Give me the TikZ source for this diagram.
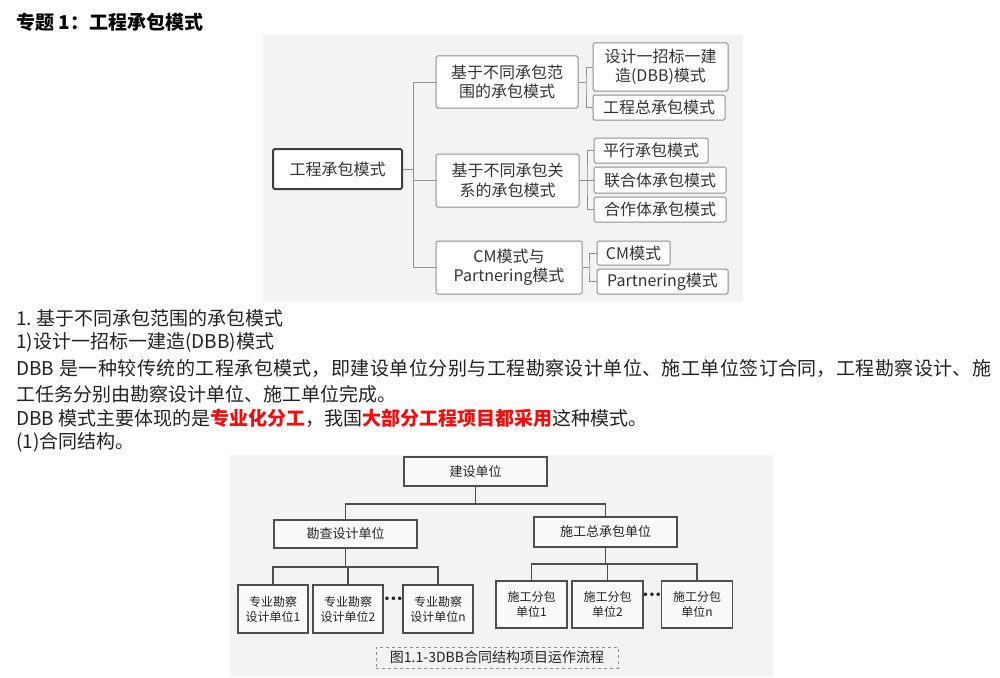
\documentclass[tikz,border=0pt]{standalone}
\usepackage{fontspec}
\setmainfont{Noto Sans CJK SC}
\newfontfamily\dotfont{DejaVu Sans}
\usepackage{tikz}
\XeTeXlinebreaklocale "zh"
\XeTeXlinebreakskip=0pt plus 1pt

\definecolor{pagebg}{HTML}{F3F3F3}
\definecolor{topline}{HTML}{8E8E8E}
\definecolor{topink}{HTML}{333333}
\definecolor{rootline}{HTML}{3E3E3E}
\definecolor{botline}{HTML}{4E4E4E}
\definecolor{bodyink}{HTML}{222222}
\definecolor{hired}{HTML}{F20D0D}

\begin{document}
\begin{tikzpicture}[x=1pt, y=-1pt, every node/.style={inner sep=0pt},
    topbox/.style={draw=topline, line width=1pt, rounded corners=1.5pt, fill=white, text=topink, align=center, font=\fontsize{16}{19.5}\selectfont},
    rootbox/.style={topbox, draw=rootline, line width=2pt},
    toplink/.style={draw=topline, line width=1pt},
    botbox/.style={draw=botline, line width=1.4pt, fill=white!98!black, text=bodyink, align=center, font=\fontsize{12}{15}\selectfont},
    botlink/.style={draw=botline, line width=1.4pt},
    gapdots/.style={text=bodyink, font=\dotfont\bfseries\fontsize{10}{10}\selectfont},
    bodytext/.style={anchor=west, text=bodyink, font=\fontsize{19}{23}\selectfont}]

    \useasboundingbox (0,0) rectangle (1000,677);
    \fill[white] (0,0) rectangle (1000,677);

    % header and body text
    \node[bodytext, font=\fontsize{19}{22}\selectfont\bfseries, text=black] (40) at (16,22) {专题 1：工程承包模式};
    \node[bodytext] (41) at (16,318) {1.\hspace{4pt}基于不同承包范围的承包模式};
    \node[bodytext] (42) at (16,342) {1)设计一招标一建造(DBB)模式};
    \node[bodytext, text width=975, align=justify] (43) at (16,368) {{\parfillskip=0pt\relax DBB 是一种较传统的工程承包模式，即建设单位分别与工程勘察设计单位、施工单位签订合同，工程勘察设计、施\par}};
    \node[bodytext] (44) at (16,394) {工任务分别由勘察设计单位、施工单位完成。};
    \node[bodytext] (45) at (16,418) {DBB 模式主要体现的是\textcolor{hired}{\bfseries 专业化分工}，我国\textcolor{hired}{\bfseries 大部分工程项目都采用}这种模式。};
    \node[bodytext] (46) at (16,442) {(1)合同结构。};

    % first figure
    \fill[pagebg] (263,35) rectangle (743,302);

    \node[rootbox, minimum width=129, minimum height=40] (1) at (337.5,169) {工程承包模式};

    \node[topbox, minimum width=142, minimum height=52] (2) at (507,82) {基于不同承包范\\围的承包模式};
    \node[topbox, minimum width=143, minimum height=53] (3) at (507.5,180.5) {基于不同承包关\\系的承包模式};
    \node[topbox, minimum width=146, minimum height=53] (4) at (509,267.5) {CM模式与\\Partnering模式};

    \node[topbox, minimum width=135, minimum height=48] (5) at (660.5,67) {设计一招标一建\\造(DBB)模式};
    \node[topbox, minimum width=132, minimum height=25] (6) at (659,107.5) {工程总承包模式};

    \node[topbox, minimum width=114, minimum height=25] (7) at (651,150.5) {平行承包模式};
    \node[topbox, minimum width=132, minimum height=26] (8) at (660,180) {联合体承包模式};
    \node[topbox, minimum width=132, minimum height=25] (9) at (660,209.5) {合作体承包模式};

    \node[topbox, minimum width=73, minimum height=24] (10) at (633.5,253) {CM模式};
    \node[topbox, minimum width=131, minimum height=25] (11) at (662.5,281.5) {Partnering模式};

    \coordinate (a0) at (413,169);
    \coordinate (a1) at (586,82);
    \coordinate (a2) at (587,180.5);
    \coordinate (a3) at (589,267.5);

    \draw[toplink] (1) to (a0);
    \draw[toplink] (2.west) -- (2.west -| a0) -- (4.west -| a0) -- (4.west);
    \draw[toplink] (3.west) -- (3.west -| a0);
    \draw[toplink] (2.east) -- (a1);
    \draw[toplink] (5.west) -| (a1) |- (6.west);
    \draw[toplink] (3.east) -- (a2);
    \draw[toplink] (7.west) -| (a2) |- (9.west);
    \draw[toplink] (8.west) -- (8.west -| a2);
    \draw[toplink] (4.east) -- (a3);
    \draw[toplink] (10.west) -| (a3) |- (11.west);

    % second figure
    \fill[pagebg] (230,455) rectangle (773,677);

    \node[botbox, minimum width=143, minimum height=29, font=\fontsize{13}{16}\selectfont] (21) at (475.5,471.5) {建设单位};
    \node[botbox, minimum width=143, minimum height=28, font=\fontsize{13}{16}\selectfont] (22) at (345.5,534) {勘查设计单位};
    \node[botbox, minimum width=143, minimum height=30, font=\fontsize{13}{16}\selectfont] (23) at (605.5,532) {施工总承包单位};

    \node[botbox, minimum width=70, minimum height=48] (24) at (273,609) {专业勘察\\设计单位1};
    \node[botbox, minimum width=70, minimum height=48] (25) at (348,609) {专业勘察\\设计单位2};
    \node[botbox, minimum width=70, minimum height=48] (26) at (438,609) {专业勘察\\设计单位n};
    \node[gapdots] (27) at (393.5,600) {•••};

    \node[botbox, minimum width=71, minimum height=47] (28) at (531.5,604.5) {施工分包\\单位1};
    \node[botbox, minimum width=71, minimum height=47] (29) at (607.5,604.5) {施工分包\\单位2};
    \node[botbox, minimum width=71, minimum height=47] (30) at (697,604.5) {施工分包\\单位n};
    \node[gapdots] (31) at (652,596) {•••};

    \node[draw=topline, dashed, line width=1pt, minimum width=242, minimum height=21, text=bodyink, font=\fontsize{14}{16}\selectfont] (32) at (497,657.5) {图1.1-3DBB合同结构项目运作流程};

    \coordinate (b1) at (475.5,504);
    \coordinate (b2) at (345.5,567);
    \coordinate (b3) at (605.5,564);

    \draw[botlink] (21) to (b1);
    \draw[botlink] (22.north) -- (22.north |- b1) -- (23.north |- b1) -- (23.north);
    \draw[botlink] (22) to (b2);
    \draw[botlink] (24.north) -- (24.north |- b2) -- (26.north |- b2) -- (26.north);
    \draw[botlink] (25.north) -- (25.north |- b2);
    \draw[botlink] (23) to (b3);
    \draw[botlink] (28.north) -- (28.north |- b3) -- (30.north |- b3) -- (30.north);
    \draw[botlink] (29.north) -- (29.north |- b3);
\end{tikzpicture}
\end{document}
